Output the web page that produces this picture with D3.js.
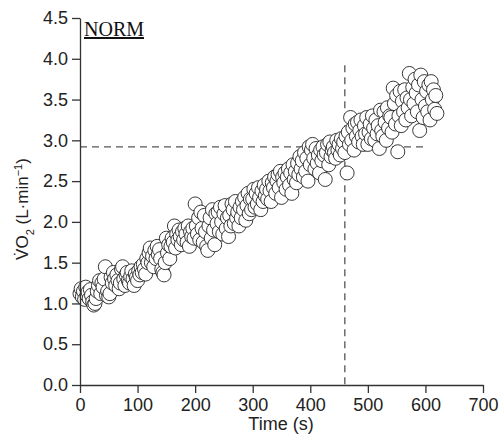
<!DOCTYPE html>
<html lang="en">
<head>
    <meta charset="UTF-8">
    <title>VO2 NORM</title>
    <script src="https://d3js.org/d3.v7.min.js"></script>
    <style>
        body { margin: 0; background: #fff; }
        .tick text { font-family: "Liberation Sans", Arial, sans-serif; font-size: 18px; fill: #222; }
        .domain, .tick line { stroke: #333; stroke-width: 1.3; }
        .breath { fill: #fff; stroke: #222; stroke-width: 0.9; }
        .ref { stroke: #555; stroke-width: 1.3; stroke-dasharray: 7 5; fill: none; }
    </style>
</head>
<body>
<svg id="svg" width="500" height="446"></svg>

<script>

// breath-by-breath samples (one row = 20 s)
let times = [
    0, 2, 4, 6, 8, 10, 12, 14, 16, 18,
    20, 22, 24, 26, 28, 30, 32, 34, 36, 38,
    40, 42, 44, 46, 48, 50, 52, 54, 56, 58,
    60, 62, 64, 66, 68, 70, 72, 74, 76, 78,
    80, 82, 84, 86, 88, 90, 92, 94, 96, 98,
    100, 102, 104, 106, 108, 110, 112, 114, 116, 118,
    120, 122, 124, 126, 128, 130, 132, 134, 136, 138,
    140, 142, 144, 146, 148, 150, 152, 154, 156, 158,
    160, 162, 164, 166, 168, 170, 172, 174, 176, 178,
    180, 182, 184, 186, 188, 190, 192, 194, 196, 198,
    200, 202, 204, 206, 208, 210, 212, 214, 216, 218,
    220, 222, 224, 226, 228, 230, 232, 234, 236, 238,
    240, 242, 244, 246, 248, 250, 252, 254, 256, 258,
    260, 262, 264, 266, 268, 270, 272, 274, 276, 278,
    280, 282, 284, 286, 288, 290, 292, 294, 296, 298,
    300, 302, 304, 306, 308, 310, 312, 314, 316, 318,
    320, 322, 324, 326, 328, 330, 332, 334, 336, 338,
    340, 342, 344, 346, 348, 350, 352, 354, 356, 358,
    360, 362, 364, 366, 368, 370, 372, 374, 376, 378,
    380, 382, 384, 386, 388, 390, 392, 394, 396, 398,
    400, 402, 404, 406, 408, 410, 412, 414, 416, 418,
    420, 422, 424, 426, 428, 430, 432, 434, 436, 438,
    440, 442, 444, 446, 448, 450, 452, 454, 456, 458,
    460, 462, 464, 466, 468, 470, 472, 474, 476, 478,
    480, 482, 484, 486, 488, 490, 492, 494, 496, 498,
    500, 502, 504, 506, 508, 510, 512, 514, 516, 518,
    520, 522, 524, 526, 528, 530, 532, 534, 536, 538,
    540, 542, 544, 546, 548, 550, 552, 554, 556, 558,
    560, 562, 564, 566, 568, 570, 572, 574, 576, 578,
    580, 582, 584, 586, 588, 590, 592, 594, 596, 598,
    600, 602, 604, 606, 608, 610, 612, 614, 616, 618,
    620];

let vo2 = [
    1.12, 1.18, 1.08, 1.15, 1.05, 1.20, 1.10, 1.14, 1.06, 1.17,
    1.10, 1.02, 0.98, 1.00, 1.06, 1.15, 1.22, 1.28, 1.12, 1.25,
    1.20, 1.30, 1.45, 1.10, 1.15, 1.08, 1.12, 1.32, 1.25, 1.38,
    1.30, 1.22, 1.35, 1.28, 1.18, 1.25, 1.42, 1.45, 1.30, 1.22,
    1.35, 1.38, 1.28, 1.25, 1.33, 1.40, 1.30, 1.22, 1.36, 1.32,
    1.28, 1.40, 1.35, 1.45, 1.38, 1.48, 1.42, 1.36, 1.55, 1.50,
    1.62, 1.68, 1.50, 1.58, 1.45, 1.65, 1.55, 1.70, 1.60, 1.66,
    1.55, 1.42, 1.38, 1.35, 1.50, 1.80, 1.62, 1.72, 1.55, 1.70,
    1.80, 1.75, 1.95, 1.68, 1.85, 1.78, 1.90, 1.82, 1.72, 1.88,
    1.78, 1.92, 1.85, 1.75, 1.95, 1.70, 1.88, 1.82, 1.92, 1.80,
    2.22, 1.95, 1.85, 2.05, 1.78, 2.12, 1.92, 1.75, 2.08, 1.88,
    1.70, 1.65, 1.95, 2.05, 1.80, 2.15, 1.90, 1.72, 2.10, 1.98,
    2.12, 1.88, 2.18, 2.00, 1.85, 2.10, 2.20, 1.92, 2.05, 1.82,
    2.08, 1.95, 2.22, 2.15, 1.98, 2.25, 2.05, 2.12, 1.95, 2.18,
    2.05, 2.25, 2.15, 2.30, 2.02, 2.20, 2.35, 2.10, 2.28, 2.15,
    2.28, 2.40, 2.18, 2.35, 2.22, 2.42, 2.30, 2.15, 2.38, 2.25,
    2.45, 2.32, 2.40, 2.28, 2.50, 2.38, 2.25, 2.48, 2.42, 2.55,
    2.35, 2.50, 2.58, 2.42, 2.62, 2.30, 2.55, 2.48, 2.60, 2.40,
    2.55, 2.65, 2.45, 2.60, 2.35, 2.70, 2.52, 2.62, 2.48, 2.72,
    2.58, 2.80, 2.65, 2.75, 2.55, 2.85, 2.62, 2.78, 2.50, 2.92,
    2.70, 2.88, 2.95, 2.78, 2.65, 2.90, 2.72, 2.82, 2.60, 2.88,
    2.75, 2.92, 2.82, 2.52, 2.85, 2.95, 2.70, 2.98, 2.80, 2.88,
    2.92, 2.85, 2.78, 3.00, 2.88, 2.95, 2.82, 3.02, 2.90, 2.98,
    2.85, 3.05, 2.60, 3.10, 2.95, 3.28, 3.00, 3.15, 2.88, 3.20,
    3.05, 3.22, 2.98, 3.12, 3.25, 3.05, 2.95, 3.18, 3.08, 3.28,
    2.95, 3.10, 3.20, 3.02, 3.30, 3.15, 3.00, 3.25, 3.08, 3.18,
    2.90, 3.37, 3.12, 3.05, 3.35, 3.22, 3.00, 3.40, 3.15, 3.30,
    3.28, 3.10, 3.64, 3.45, 3.20, 3.55, 2.86, 3.30, 3.60, 3.18,
    3.48, 3.35, 3.62, 3.25, 3.52, 3.40, 3.82, 3.50, 3.30, 3.65,
    3.45, 3.75, 3.58, 3.35, 3.68, 3.12, 3.80, 3.50, 3.28, 3.72,
    3.42, 3.60, 3.35, 3.68, 3.25, 3.72, 3.50, 3.62, 3.38, 3.55,
    3.33];

let xTicks = [0, 100, 200, 300, 400, 500, 600, 700];
let yTicks = [0.0, 0.5, 1.0, 1.5, 2.0, 2.5, 3.0, 3.5, 4.0, 4.5];

// threshold markers
let thresholdTime = 460;
let thresholdVO2 = 2.92;
let hLineEnd = 600;
let vLineTop = 3.92;

let svg = d3.select('#svg');
let margin = {left: 80, right: 17, top: 18, bottom: 61};
let width = 500 - margin.left - margin.right;
let height = 446 - margin.top - margin.bottom;

let x = d3.scaleLinear().domain([0, 700]).range([0, width]);
let y = d3.scaleLinear().domain([0, 4.5]).range([height, 0]);

let g = svg.append('g').attr('transform', `translate(${margin.left},${margin.top})`);

// dashed threshold lines
g.append('line').attr('class', 'ref')
    .attr('x1', x(0)).attr('x2', x(hLineEnd))
    .attr('y1', y(thresholdVO2)).attr('y2', y(thresholdVO2));
g.append('line').attr('class', 'ref')
    .attr('x1', x(thresholdTime)).attr('x2', x(thresholdTime))
    .attr('y1', y(vLineTop)).attr('y2', y(0));

// data points
let pts = times.map((t, i) => ({t: t, v: vo2[i]}));
g.selectAll('.breath')
    .data(pts)
    .enter()
    .append('circle')
    .attr('class', 'breath')
    .attr('cx', d => x(d.t))
    .attr('cy', d => y(d.v))
    .attr('r', 7);

// axes
g.append('g')
    .attr('transform', `translate(0,${height})`)
    .call(d3.axisBottom(x).tickValues(xTicks).tickFormat(d3.format('d')).tickSize(8).tickSizeOuter(0).tickPadding(5));

g.append('g')
    .call(d3.axisLeft(y).tickValues(yTicks).tickFormat(d3.format('.1f')).tickSize(8).tickSizeOuter(0).tickPadding(4));

// axis titles
svg.append('text')
    .attr('x', 281)
    .attr('y', 430)
    .attr('text-anchor', 'middle')
    .style('font-family', '"Liberation Sans", Arial, sans-serif')
    .style('font-size', '18px')
    .style('fill', '#222')
    .text('Time (s)');

let yl = svg.append('text')
    .attr('transform', 'translate(28,209) rotate(-90)')
    .attr('text-anchor', 'middle')
    .style('font-family', '"Liberation Sans", Arial, sans-serif')
    .style('font-size', '17px')
    .style('fill', '#222');
yl.append('tspan').text('V\u0307O');
yl.append('tspan').attr('baseline-shift', 'sub').style('font-size', '11px').text('2');
yl.append('tspan').text(' (L\u00b7min');
yl.append('tspan').attr('baseline-shift', 'super').style('font-size', '11px').text('\u22121');
yl.append('tspan').text(')');

// panel label
svg.append('text')
    .attr('x', 84)
    .attr('y', 36)
    .style('font-family', '"Liberation Serif", "Times New Roman", serif')
    .style('font-size', '20px')
    .style('text-decoration', 'underline')
    .style('fill', '#111')
    .text('NORM');

</script>
</body>
</html>
